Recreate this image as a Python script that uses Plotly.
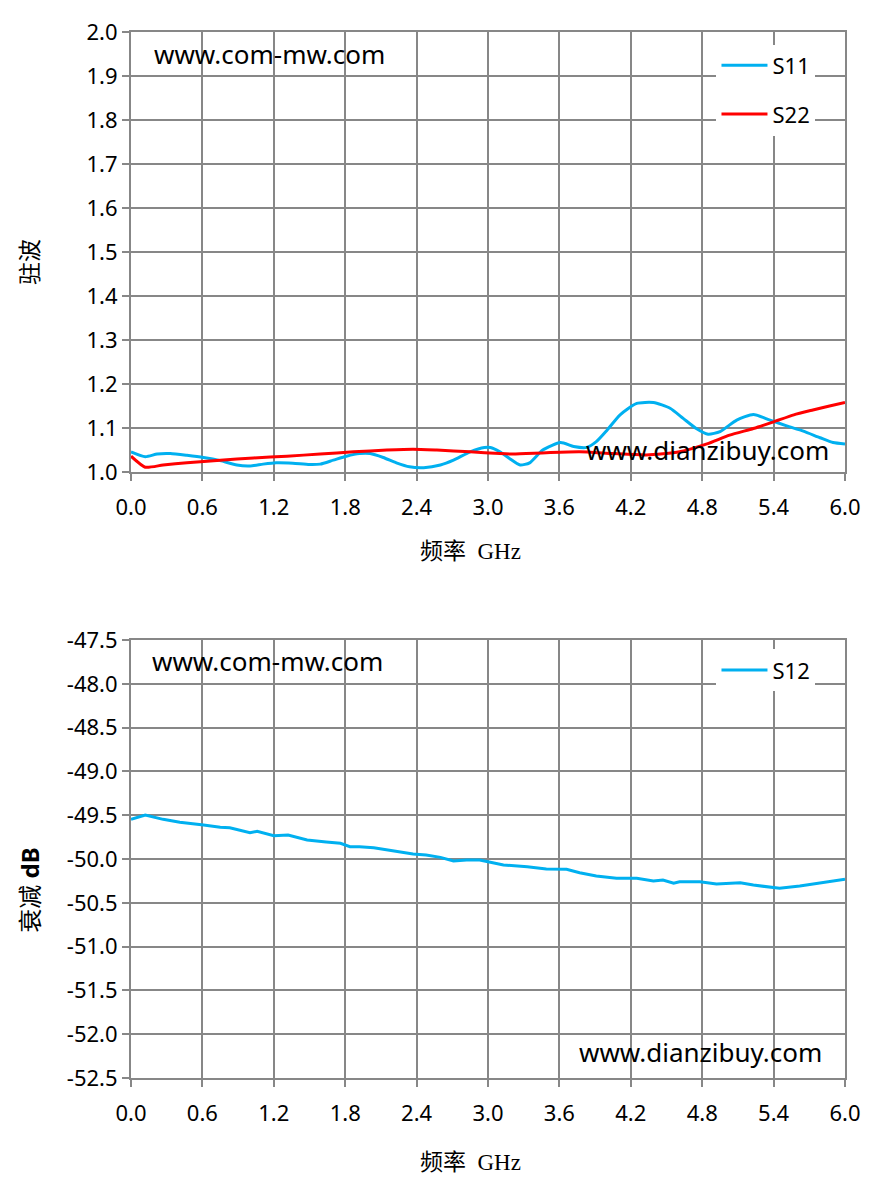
import plotly.graph_objects as go
from plotly.subplots import make_subplots

# S11 / S22 standing wave (VSWR) readings
s11_freq = [0.0, 0.12, 0.22, 0.33, 0.47, 0.61, 0.75, 0.89, 1.0, 1.11, 1.22, 1.36, 1.50, 1.59,
            1.70, 1.81, 1.92, 2.01, 2.12, 2.23, 2.34, 2.46, 2.60, 2.71, 2.85, 2.97, 3.02, 3.10,
            3.18, 3.27, 3.35, 3.46, 3.61, 3.72, 3.83, 3.91, 4.00, 4.11, 4.25, 4.39, 4.53, 4.64,
            4.75, 4.85, 4.95, 5.09, 5.23, 5.37, 5.51, 5.65, 5.79, 5.90, 6.0]
s11_vswr = [1.046, 1.035, 1.041, 1.042, 1.038, 1.033, 1.026, 1.016, 1.014, 1.018, 1.021, 1.020,
            1.017, 1.018, 1.027, 1.036, 1.042, 1.042, 1.033, 1.021, 1.012, 1.010, 1.016, 1.027,
            1.046, 1.056, 1.056, 1.046, 1.031, 1.016, 1.021, 1.050, 1.067, 1.058, 1.056, 1.069,
            1.095, 1.130, 1.156, 1.158, 1.145, 1.122, 1.099, 1.086, 1.092, 1.118, 1.131, 1.118,
            1.105, 1.093, 1.078, 1.067, 1.064]

s22_freq = [0.0, 0.12, 0.27, 0.47, 0.75, 1.03, 1.31, 1.59, 1.87, 2.15, 2.37, 2.57, 2.85, 3.10,
            3.21, 3.49, 3.77, 4.05, 4.33, 4.61, 4.84, 5.03, 5.23, 5.40, 5.57, 5.73, 5.87, 6.0]
s22_vswr = [1.036, 1.011, 1.016, 1.021, 1.027, 1.032, 1.036, 1.041, 1.046, 1.050, 1.052, 1.050,
            1.046, 1.042, 1.041, 1.044, 1.046, 1.042, 1.039, 1.046, 1.064, 1.084, 1.099, 1.114,
            1.130, 1.141, 1.150, 1.158]

# S12 attenuation readings
s12_freq = [0.0, 0.12, 0.27, 0.41, 0.61, 0.75, 0.83, 1.0, 1.06, 1.20, 1.32, 1.48, 1.64, 1.76,
            1.84, 1.92, 2.04, 2.20, 2.37, 2.48, 2.60, 2.71, 2.82, 2.93, 3.13, 3.33, 3.49, 3.66,
            3.77, 3.91, 4.08, 4.25, 4.39, 4.47, 4.56, 4.61, 4.78, 4.92, 5.12, 5.23, 5.34, 5.45,
            5.62, 5.82, 6.0]
s12_db = [-49.547, -49.498, -49.547, -49.581, -49.612, -49.638, -49.643, -49.70, -49.684,
          -49.734, -49.726, -49.783, -49.806, -49.821, -49.86, -49.86, -49.871, -49.909, -49.943,
          -49.955, -49.981, -50.023, -50.011, -50.011, -50.068, -50.088, -50.114, -50.118,
          -50.156, -50.194, -50.22, -50.22, -50.251, -50.24, -50.277, -50.259, -50.259, -50.285,
          -50.27, -50.297, -50.316, -50.335, -50.308, -50.266, -50.232]

# tick labels of the attenuation axis (plain hyphen, like the original)
db_ticks = [-52.5, -52.0, -51.5, -51.0, -50.5, -50.0, -49.5, -49.0, -48.5, -48.0, -47.5]
db_labels = ["-52.5", "-52.0", "-51.5", "-51.0", "-50.5", "-50.0", "-49.5", "-49.0",
             "-48.5", "-48.0", "-47.5"]

BLUE = "#00B0F0"
RED = "#FF0000"
GRID = "#878787"
tickfont = dict(family="Noto Sans, sans-serif", size=22, color="#000")
titlefont = dict(family="Liberation Serif, Noto Sans CJK SC", size=23, color="#000")

fig = make_subplots(rows=2, cols=1)

fig.add_trace(go.Scatter(x=s11_freq, y=s11_vswr, mode="lines", name="S11",
                         line=dict(color=BLUE, width=3, shape="spline", smoothing=0.6),
                         legend="legend"), row=1, col=1)
fig.add_trace(go.Scatter(x=s22_freq, y=s22_vswr, mode="lines", name="S22",
                         line=dict(color=RED, width=3, shape="spline", smoothing=0.6),
                         legendgroup="b", legend="legend"), row=1, col=1)
fig.add_trace(go.Scatter(x=s12_freq, y=s12_db, mode="lines", name="S12",
                         line=dict(color=BLUE, width=3),
                         legend="legend2"), row=2, col=1)

axis_common = dict(showgrid=True, gridcolor=GRID, gridwidth=2, showline=True, linecolor=GRID,
                   linewidth=2, mirror=True, ticks="outside", ticklen=7, tickcolor=GRID,
                   tickwidth=2, tickfont=tickfont, zeroline=False, automargin=False)

for r in (1, 2):
    fig.update_xaxes(range=[0, 6], dtick=0.6, tick0=0, tickformat=".1f", ticklabelstandoff=8,
                     row=r, col=1, **axis_common)

fig.update_yaxes(range=[1.0, 2.0], dtick=0.1, tickformat=".1f", domain=[0.5793, 1.0],
                 row=1, col=1, **axis_common)
fig.update_yaxes(range=[-52.5, -47.5], tickvals=db_ticks, ticktext=db_labels,
                 domain=[0.0, 0.4187], row=2, col=1, **axis_common)

fig.update_layout(
    width=873, height=1182,
    margin=dict(l=123, r=36, t=24, b=112, autoexpand=False),
    plot_bgcolor="white", paper_bgcolor="white",
    legend=dict(x=0.82, y=0.988, xanchor="left", yanchor="top", bgcolor="white",
                font=dict(family="Noto Sans, sans-serif", size=22, color="#000"),
                tracegroupgap=17, itemwidth=46),
    legend2=dict(x=0.82, y=0.410, xanchor="left", yanchor="top", bgcolor="white",
                 font=dict(family="Noto Sans, sans-serif", size=22, color="#000"), itemwidth=46),
)

# axis titles placed as annotations
fig.add_annotation(text="驻波", x=-0.1415, y=1.477, xref="x domain", yref="y",
                   xanchor="center", yanchor="middle", textangle=-90, showarrow=False,
                   font=titlefont)
fig.add_annotation(text="衰减 <b>dB</b>", x=-0.1415, y=-50.35, xref="x2 domain", yref="y2",
                   xanchor="center", yanchor="middle", textangle=-90, showarrow=False,
                   font=dict(family="Noto Sans, Noto Sans CJK SC", size=24, color="#000"))
fig.add_annotation(text="频率  GHz", x=0.476, y=-0.1795, xref="x domain", yref="y domain",
                   xanchor="center", yanchor="middle", showarrow=False, font=titlefont)
fig.add_annotation(text="频率  GHz", x=0.476, y=-0.194, xref="x2 domain", yref="y2 domain",
                   xanchor="center", yanchor="middle", showarrow=False, font=titlefont)

# watermark texts
wm = dict(family="Noto Sans, sans-serif", size=26, color="#000")
fig.add_annotation(text="www.com-mw.com", x=0.029, y=1.951, xref="x domain", yref="y",
                   xanchor="left", yanchor="middle", showarrow=False, font=wm)
fig.add_annotation(text="www.dianzibuy.com", x=0.634, y=1.050, xref="x domain", yref="y",
                   xanchor="left", yanchor="middle", showarrow=False, font=wm)
fig.add_annotation(text="www.com-mw.com", x=0.027, y=-47.735, xref="x2 domain", yref="y2",
                   xanchor="left", yanchor="middle", showarrow=False, font=wm)
fig.add_annotation(text="www.dianzibuy.com", x=0.624, y=-52.20, xref="x2 domain", yref="y2",
                   xanchor="left", yanchor="middle", showarrow=False, font=wm)

fig.write_html("out.html")
